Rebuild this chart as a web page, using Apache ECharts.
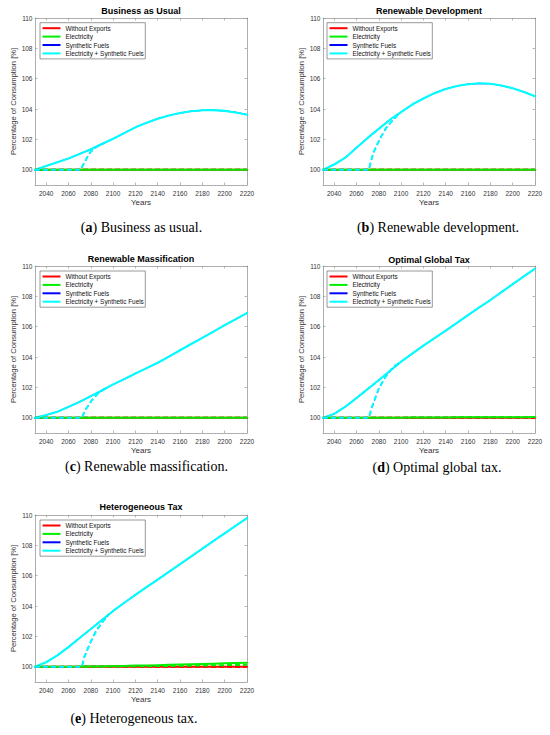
<!DOCTYPE html>
<html>
<head>
<meta charset="utf-8">
<script src="https://cdn.jsdelivr.net/npm/echarts@6/dist/echarts.min.js"></script>
<style>
html,body{margin:0;padding:0;background:#fff;}
#chart{width:550px;height:735px;}
</style>
</head>
<body>
<div id="chart"></div>
<script>
// ---------- data ----------
const years = [2030,2040,2050,2060,2070,2080,2090,2100,2110,2120,2130,2140,2150,2160,2170,2180,2190,2200,2210,2220];
const xTicks = [2040,2060,2080,2100,2120,2140,2160,2180,2200,2220];
const yTicks = [100,102,104,106,108,110];
const seriesNames = ['Without Exports','Electricity','Synthetic Fuels','Electricity + Synthetic Fuels'];

// Without Exports (identical in every scenario)
const withoutExports = [100,100,100,100,100,100,100,100,100,100,100,100,100,100,100,100,100,100,100,100];

// (a) Business as Usual
const electricityA = [100,100,100,100,100,100,100,100,100,100,100,100,100,100,100,100,100,100,100,100];
const syntheticA = [100,100.25,100.5,100.75,101.05,101.35,101.7,102.05,102.42,102.8,103.1,103.37,103.58,103.74,103.86,103.92,103.93,103.88,103.78,103.63];
const combinedA  = [100,100.25,100.5,100.75,101.05,101.35,101.7,102.05,102.42,102.8,103.1,103.37,103.58,103.74,103.86,103.92,103.93,103.88,103.78,103.63];
const lateYearsA = [2030,2071,2074,2077,2080,2084,2088,2092];
const lateCombinedA = [100,100,100.45,100.85,101.2,101.45,101.65,101.77];

// (b) Renewable Development
const electricityB = [100,100,100,100,100,100,100,100,100,100,100,100,100,100,100,100,100,100,100,100];
const syntheticB = [100,100.35,100.8,101.45,102.1,102.7,103.3,103.8,104.3,104.7,105.05,105.33,105.52,105.64,105.7,105.67,105.55,105.37,105.13,104.85];
const combinedB  = [100,100.35,100.8,101.45,102.1,102.7,103.3,103.8,104.3,104.7,105.05,105.33,105.52,105.64,105.7,105.67,105.55,105.37,105.13,104.85];
const lateYearsB = [2030,2071,2075,2081,2087,2093,2098];
const lateCombinedB = [100,100,101.1,102.05,102.8,103.3,103.7];

// (c) Renewable Massification
const electricityC = [100,100,100,100,100,100,100,100,100,100,100,100,100,100,100,100,100,100,100,100];
const syntheticC = [100,100.18,100.4,100.72,101.05,101.43,101.8,102.2,102.55,102.92,103.27,103.63,104.03,104.45,104.86,105.27,105.68,106.1,106.5,106.9];
const combinedC  = [100,100.18,100.4,100.72,101.05,101.43,101.8,102.2,102.55,102.92,103.27,103.63,104.03,104.45,104.86,105.27,105.68,106.1,106.5,106.9];
const lateYearsC = [2030,2072,2075,2081,2087,2094];
const lateCombinedC = [100,100,100.5,101.16,101.65,102.0];

// (d) Optimal Global Tax
const electricityD = [100,100,100,100,100.01,100.01,100.01,100.01,100.02,100.02,100.02,100.02,100.03,100.03,100.03,100.03,100.04,100.04,100.04,100.05];
const syntheticD = [100,100.26,100.73,101.3,101.89,102.48,103.08,103.7,104.23,104.75,105.25,105.74,106.25,106.77,107.27,107.76,108.28,108.8,109.32,109.82];
const combinedD  = [100,100.26,100.73,101.3,101.89,102.48,103.08,103.7,104.23,104.75,105.25,105.74,106.25,106.77,107.27,107.76,108.28,108.8,109.32,109.82];
const lateYearsD = [2030,2071,2074,2080,2086,2093,2098];
const lateCombinedD = [100,100,100.73,101.93,102.7,103.36,103.58];

// (e) Heterogeneous Tax
const electricityE = [100,100,100.01,100.01,100.02,100.03,100.04,100.05,100.06,100.08,100.09,100.11,100.13,100.15,100.17,100.19,100.21,100.23,100.25,100.27];
const lateElectricityE = [100,100,100,100,100,100.01,100.01,100.02,100.03,100.03,100.04,100.05,100.06,100.07,100.08,100.09,100.1,100.11,100.12,100.13];
const syntheticE = [100,100.3,100.75,101.3,101.9,102.49,103.08,103.68,104.22,104.74,105.25,105.75,106.26,106.76,107.27,107.78,108.29,108.79,109.3,109.8];
const combinedE  = [100,100.3,100.75,101.3,101.9,102.49,103.08,103.68,104.22,104.74,105.25,105.75,106.26,106.76,107.27,107.78,108.29,108.79,109.3,109.8];
const lateYearsE = [2030,2072,2074,2079,2085,2091,2096];
const lateCombinedE = [100,100,100.6,101.5,102.4,103.0,103.45];

const titles = ['Business as Usual','Renewable Development','Renewable Massification','Optimal Global Tax','Heterogeneous Tax'];
const captionLetters = ['a','b','c','d','e'];
const captionTexts = ['Business as usual.','Renewable development.','Renewable massification.','Optimal global tax.','Heterogeneous tax.'];

// ---------- layout ----------
const panels = [
  {grid:[35,18], legend:[40,22.7], title:[141,11], cap:[141.5,227],
   elec:electricityA, lateElec:electricityA, synth:syntheticA, comb:combinedA, lateYears:lateYearsA, lateComb:lateCombinedA},
  {grid:[323,18], legend:[327,22.7], title:[429,11], cap:[438,227],
   elec:electricityB, lateElec:electricityB, synth:syntheticB, comb:combinedB, lateYears:lateYearsB, lateComb:lateCombinedB},
  {grid:[35,266], legend:[40,271], title:[141,259.3], cap:[146.5,466],
   elec:electricityC, lateElec:electricityC, synth:syntheticC, comb:combinedC, lateYears:lateYearsC, lateComb:lateCombinedC},
  {grid:[323,266], legend:[327,271], title:[429,259.7], cap:[437,467.5],
   elec:electricityD, lateElec:electricityD, synth:syntheticD, comb:combinedD, lateYears:lateYearsD, lateComb:lateCombinedD},
  {grid:[35,515], legend:[40,520], title:[141,507], cap:[134,718],
   elec:electricityE, lateElec:lateElectricityE, synth:syntheticE, comb:combinedE, lateYears:lateYearsE, lateComb:lateCombinedE}
];
const GW = 212, GH = 167;
const colors = ['#ff0000','#00ee00','#0000ff','#00ffff'];
const widths = [2, 2, 1.2, 2.1];
const FONT = 'Liberation Sans, Arial, sans-serif';
const AX = '#9a9a9a';

function pairs(xs, ys){ return xs.map((x,i)=>[x, ys[i]]); }
const plain = v => String(v);

const grid=[], xAxis=[], yAxis=[], series=[], legend=[], graphic=[];
panels.forEach((p,i)=>{
  grid.push({left:p.grid[0], top:p.grid[1], width:GW, height:GH, containLabel:false});
  const tick = {show:true, inside:true, length:2.5, lineStyle:{color:AX, width:0.7}};
  xAxis.push({type:'value', gridIndex:i, min:2030, max:2220, position:'bottom',
    axisLine:{show:true, onZero:false, lineStyle:{color:AX, width:0.8}},
    axisTick:Object.assign({customValues:xTicks}, tick),
    axisLabel:{customValues:xTicks, formatter:plain, fontSize:6.5, color:'#333', margin:4.5, fontFamily:FONT},
    splitLine:{show:false},
    name:'Years', nameLocation:'middle', nameGap:13.5, nameTextStyle:{fontSize:8, color:'#333', fontFamily:FONT}});
  xAxis.push({type:'value', gridIndex:i, min:2030, max:2220, position:'top',
    axisLine:{show:true, onZero:false, lineStyle:{color:AX, width:0.8}},
    axisTick:Object.assign({customValues:xTicks}, tick),
    axisLabel:{show:false}, splitLine:{show:false}});
  yAxis.push({type:'value', gridIndex:i, min:99, max:110, position:'left',
    axisLine:{show:true, onZero:false, lineStyle:{color:AX, width:0.8}},
    axisTick:Object.assign({customValues:yTicks}, tick),
    axisLabel:{customValues:yTicks, formatter:plain, fontSize:6.5, color:'#333', margin:2.5, fontFamily:FONT},
    splitLine:{show:false},
    name:'Percentage of Consumption [%]', nameLocation:'middle', nameGap:17.5,
    nameTextStyle:{fontSize:7.6, color:'#333', fontFamily:FONT}});
  yAxis.push({type:'value', gridIndex:i, min:99, max:110, position:'right',
    axisLine:{show:true, onZero:false, lineStyle:{color:AX, width:0.8}},
    axisTick:Object.assign({customValues:yTicks}, tick),
    axisLabel:{show:false}, splitLine:{show:false}});

  const solid = [withoutExports, p.elec, p.synth, p.comb];
  solid.forEach((vals,k)=>{
    series.push({type:'line', name:seriesNames[k], xAxisIndex:2*i, yAxisIndex:2*i,
      data:pairs(years, vals), showSymbol:false, symbol:'none', silent:true,
      lineStyle:{color:colors[k], width:widths[k], join:'round', cap:'round'}, itemStyle:{color:colors[k]}});
  });
  const late = [[years, withoutExports],[years, p.lateElec],[p.lateYears, p.lateComb],[p.lateYears, p.lateComb]];
  late.forEach((xy,k)=>{
    series.push({type:'line', name:seriesNames[k]+' (late)', xAxisIndex:2*i, yAxisIndex:2*i,
      data:pairs(xy[0], xy[1]), showSymbol:false, symbol:'none', silent:true,
      lineStyle:{color:colors[k], width:widths[k], type:[5,3]}, itemStyle:{color:colors[k]}});
  });

  legend.push({orient:'vertical', left:p.legend[0], top:p.legend[1], data:seriesNames,
    icon:'rect', itemWidth:18, itemHeight:2, itemGap:0.4, selectedMode:false,
    textStyle:{fontSize:6.4, lineHeight:8, color:'#111', fontFamily:FONT},
    backgroundColor:'#fff', borderColor:'#555', borderWidth:0.6, padding:[1.5,1.5,1.5,2.5]});

  graphic.push({type:'text', x:p.title[0], y:p.title[1], silent:true,
    style:{text:titles[i], fill:'#000', font:'bold 9px '+FONT, align:'center', verticalAlign:'middle', textAlign:'center', textVerticalAlign:'middle'}});
  graphic.push({type:'text', x:p.cap[0], y:p.cap[1], silent:true,
    style:{text:'({b|'+captionLetters[i]+'}) '+captionTexts[i], fill:'#000', fontSize:14, fontFamily:'Liberation Serif, serif',
      align:'center', verticalAlign:'middle', textAlign:'center', textVerticalAlign:'middle',
      rich:{b:{fontWeight:'bold', fontSize:14, fontFamily:'Liberation Serif, serif', fill:'#000'}}}});
});

const chart = echarts.init(document.getElementById('chart'), null, {renderer:'svg'});
chart.setOption({animation:false, backgroundColor:'#fff', textStyle:{fontFamily:FONT},
  grid, xAxis, yAxis, series, legend, graphic});
</script>
</body>
</html>
